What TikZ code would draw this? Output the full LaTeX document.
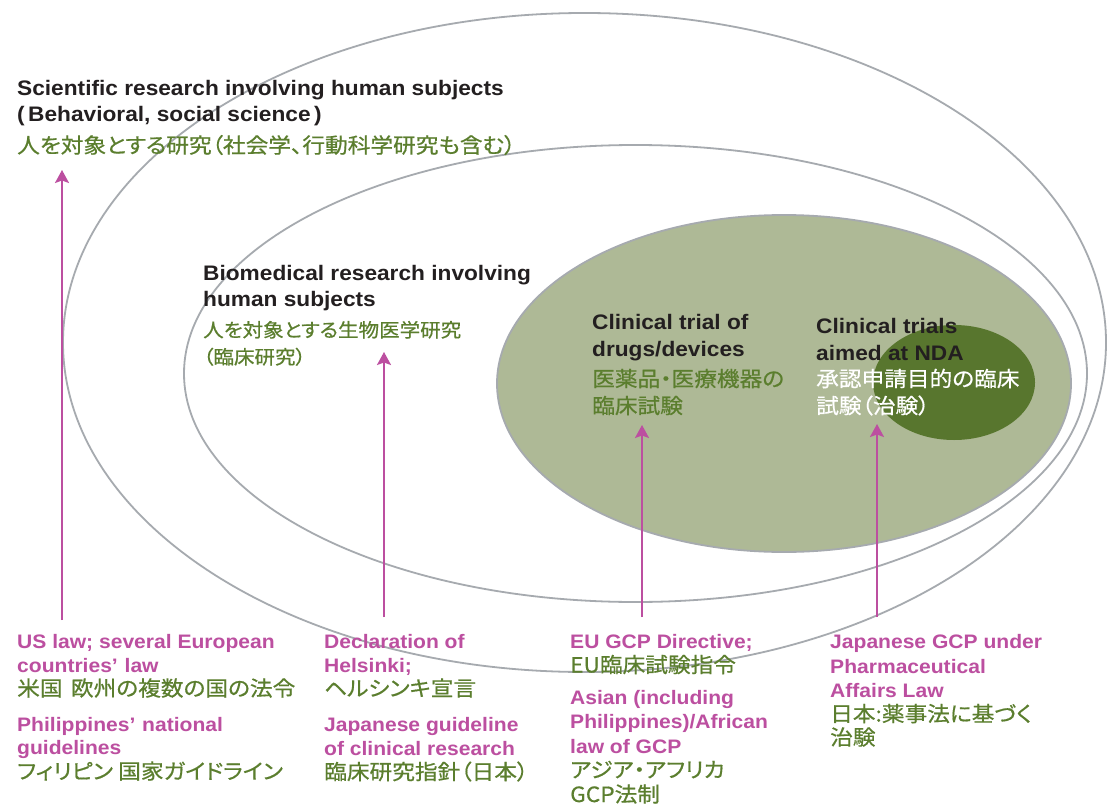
\documentclass[tikz,border=0pt]{standalone}
\usepackage{fontspec}
\usetikzlibrary{arrows.meta}
\setmainfont{Liberation Sans}[FakeStretch=1.08]
\newfontfamily\jp{Noto Sans CJK JP}[FakeStretch=1.08,FakeBold=0.6,RawFeature=+palt]

\definecolor{ringgray}{HTML}{A6AAAF}
\definecolor{paleleaf}{HTML}{AEB996}
\definecolor{deepleaf}{HTML}{58762E}
\definecolor{leaftext}{HTML}{5B7E2E}
\definecolor{orchid}{HTML}{BC4FA0}
\definecolor{inkblack}{HTML}{231F20}

\tikzset{
  ring/.style={draw=ringgray, line width=1.8pt},
  entitle/.style={anchor=base west, inner sep=0pt, text=inkblack,
    font=\fontsize{21}{25}\selectfont\bfseries},
  jptitle/.style={anchor=base west, inner sep=0pt, text=leaftext,
    font=\fontsize{21}{25}\selectfont\jp},
  lawen/.style={anchor=base west, inner sep=0pt, text=orchid,
    font=\fontsize{19.5}{24}\selectfont\bfseries},
  lawjp/.style={anchor=base west, inner sep=0pt, text=leaftext,
    font=\fontsize{21}{25}\selectfont\jp},
  pointer/.style={draw=orchid, line width=2pt,
    -{Stealth[length=13pt,width=14pt,inset=2.5pt]}},
}

\begin{document}
\begin{tikzpicture}[x=1pt,y=-1pt]
  \useasboundingbox[fill=white] (0,0) rectangle (1107,805);

  % nested scopes of research
  \draw[ring] (584.5,342.5) ellipse [x radius=521.5pt, y radius=329.5pt];
  \draw[ring] (635.5,373.5) ellipse [x radius=451.5pt, y radius=228.5pt];
  \draw[ring, fill=paleleaf] (784,383.5) ellipse [x radius=287pt, y radius=168.5pt];
  \fill[deepleaf] (954,382.5) ellipse [x radius=81pt, y radius=57.5pt];

  % scope labels
  \node[entitle] (sci1) at (17,95.5) {Scientific research involving human subjects};
  \node[entitle] (sci2) at (17,122) {(\,Behavioral, social science\,)};
  \node[jptitle] (sci3) at (17,153) {人を対象とする研究（社会学、行動科学研究も含む）};

  \node[entitle] (bio1) at (203,280) {Biomedical research involving};
  \node[entitle] (bio2) at (203,306.7) {human subjects};
  \node[jptitle, font=\fontsize{19}{23}\selectfont\jp] (bio3) at (203,337) {人を対象とする生物医学研究};
  \node[jptitle, font=\fontsize{19}{23}\selectfont\jp] (bio4) at (203,364) {（臨床研究）};

  \node[entitle] (ct1) at (592,329) {Clinical trial of};
  \node[entitle] (ct2) at (592,356) {drugs/devices};
  \node[jptitle] (ct3) at (592,386.5) {医薬品・医療機器の};
  \node[jptitle] (ct4) at (592,413.5) {臨床試験};

  \node[entitle] (nda1) at (816,333) {Clinical trials};
  \node[entitle] (nda2) at (816,360) {aimed at NDA};
  \node[jptitle, text=white] (nda3) at (816,386.5) {承認申請目的の臨床};
  \node[jptitle, text=white] (nda4) at (816,413.5) {試験（治験）};

  % governing rules
  \node[lawen] (us1) at (17,648) {US law; several European};
  \node[lawen] (us2) at (17,672) {countries’\hspace{0.35em}law};
  \node[lawjp] (us3) at (17,696) {米国\hspace{0.4em}欧州の複数の国の法令};
  \node[lawen] (ph1) at (17,731) {Philippines’\hspace{0.35em}national};
  \node[lawen] (ph2) at (17,754) {guidelines};
  \node[lawjp] (ph3) at (17,779) {フィリピン\hspace{0.25em}国家ガイドライン};

  \node[lawen] (hel1) at (324,648) {Declaration of};
  \node[lawen] (hel2) at (324,672) {Helsinki;};
  \node[lawjp] (hel3) at (324,696) {ヘルシンキ宣言};
  \node[lawen] (jg1) at (324,731) {Japanese guideline};
  \node[lawen] (jg2) at (324,755) {of clinical research};
  \node[lawjp] (jg3) at (324,779.5) {臨床研究指針（日本）};

  \node[lawen] (eu1) at (570,648) {EU GCP Directive;};
  \node[lawjp] (eu2) at (570,672.5) {EU臨床試験指令};
  \node[lawen] (as1) at (570,704) {Asian (including};
  \node[lawen] (as2) at (570,728) {Philippines)/African};
  \node[lawen] (as3) at (570,753) {law of GCP};
  \node[lawjp] (as4) at (570,777.5) {アジア・アフリカ};
  \node[lawjp] (as5) at (570,802) {GCP法制};

  \node[lawen] (jp1) at (830,648) {Japanese GCP under};
  \node[lawen] (jp2) at (830,673) {Pharmaceutical};
  \node[lawen] (jp3) at (830,697) {Affairs Law};
  \node[lawjp] (jp4) at (830,721.5) {日本:薬事法に基づく};
  \node[lawjp] (jp5) at (830,745) {治験};

  % pointer ends
  \coordinate (usfoot) at (62,620);
  \coordinate (ustip) at (62,170);
  \coordinate (helfoot) at (384,617);
  \coordinate (heltip) at (384,352);
  \coordinate (eufoot) at (642,617);
  \coordinate (eutip) at (642,425);
  \coordinate (jpfoot) at (877,617);
  \coordinate (jptip) at (877,424);

  \draw[pointer] (usfoot) -- (ustip);
  \draw[pointer] (helfoot) -- (heltip);
  \draw[pointer] (eufoot) -- (eutip);
  \draw[pointer] (jpfoot) -- (jptip);
\end{tikzpicture}
\end{document}
